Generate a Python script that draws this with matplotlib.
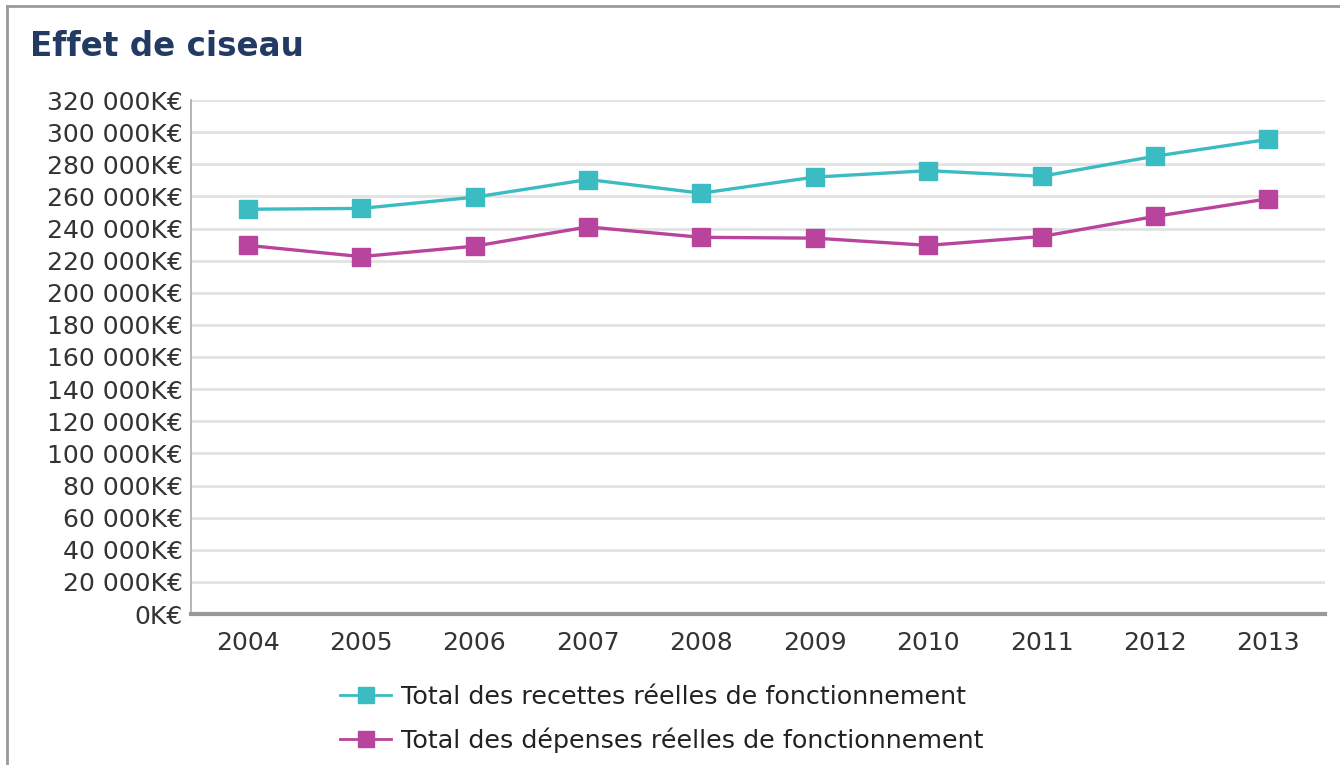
import matplotlib
matplotlib.use("Agg")
import matplotlib.pyplot as plt
from matplotlib.lines import Line2D
from matplotlib.ticker import FuncFormatter

years = ["2004", "2005", "2006", "2007", "2008", "2009", "2010", "2011", "2012", "2013"]
recettes = [252000, 252500, 259500, 270500, 262000, 272000, 276000, 272500, 285000, 295500]
depenses = [229500, 222500, 229000, 241000, 234500, 234000, 229500, 235000, 247500, 258500]
label_recettes = "Total des recettes réelles de fonctionnement"
label_depenses = "Total des dépenses réelles de fonctionnement"
title = "Effet de ciseau"

teal = "#3bbcc3"
magenta = "#b9449e"

plt.rcParams['font.family'] = ['DejaVu Sans']

fig = plt.figure(figsize=(13.4, 7.65), dpi=100)
ax = fig.add_axes([191/1340, 1-614/765, (1325-191)/1340, (614-100)/765])

x = list(range(len(years)))
ax.plot(x, recettes, color=teal, lw=2.4, marker='s', ms=13, mec=teal, mfc=teal, zorder=3)
ax.plot(x, depenses, color=magenta, lw=2.4, marker='s', ms=13, mec=magenta, mfc=magenta, zorder=3)

ax.set_xlim(-0.5, len(years) - 0.5)
ax.set_ylim(0, 320000)
ax.set_yticks(range(0, 320001, 20000))
ax.yaxis.set_major_formatter(FuncFormatter(lambda v, p: (f"{int(v):,}".replace(",", " ") + "K€")))
ax.set_xticks(x)
ax.set_xticklabels(years)
ax.grid(axis='y', color='#e2e2e2', lw=2)
ax.set_axisbelow(True)
for s in ['top', 'right']:
    ax.spines[s].set_visible(False)
ax.spines['left'].set_color('#aaaaaa')
ax.spines['left'].set_linewidth(1.2)
ax.spines['bottom'].set_color('#999999')
ax.spines['bottom'].set_linewidth(3)
ax.tick_params(axis='y', length=0, labelsize=18, colors='#333333', pad=6)
ax.tick_params(axis='x', length=0, labelsize=18, colors='#333333', pad=12)

fig.text(30/1340, 1-47/765, title, fontsize=23.5, fontweight='bold', color='#233a63', va='center', ha='left')

handles = [Line2D([], [], color=teal, lw=2, marker='s', ms=12),
           Line2D([], [], color=magenta, lw=2, marker='s', ms=12)]
fig.legend(handles, [label_recettes, label_depenses], loc='center', bbox_to_anchor=(662/1340, 1-719/765),
           frameon=False, fontsize=18.3, handlelength=2.0, handletextpad=0.4, labelspacing=0.7,
           labelcolor='#222222')

# outer border
fig.add_artist(Line2D([7/1340, 7/1340], [0, 1-6/765], color='#9a9a9a', lw=2, transform=fig.transFigure))
fig.add_artist(Line2D([7/1340, 1], [1-6/765, 1-6/765], color='#9a9a9a', lw=2, transform=fig.transFigure))

fig.savefig("out.png", dpi=100)
